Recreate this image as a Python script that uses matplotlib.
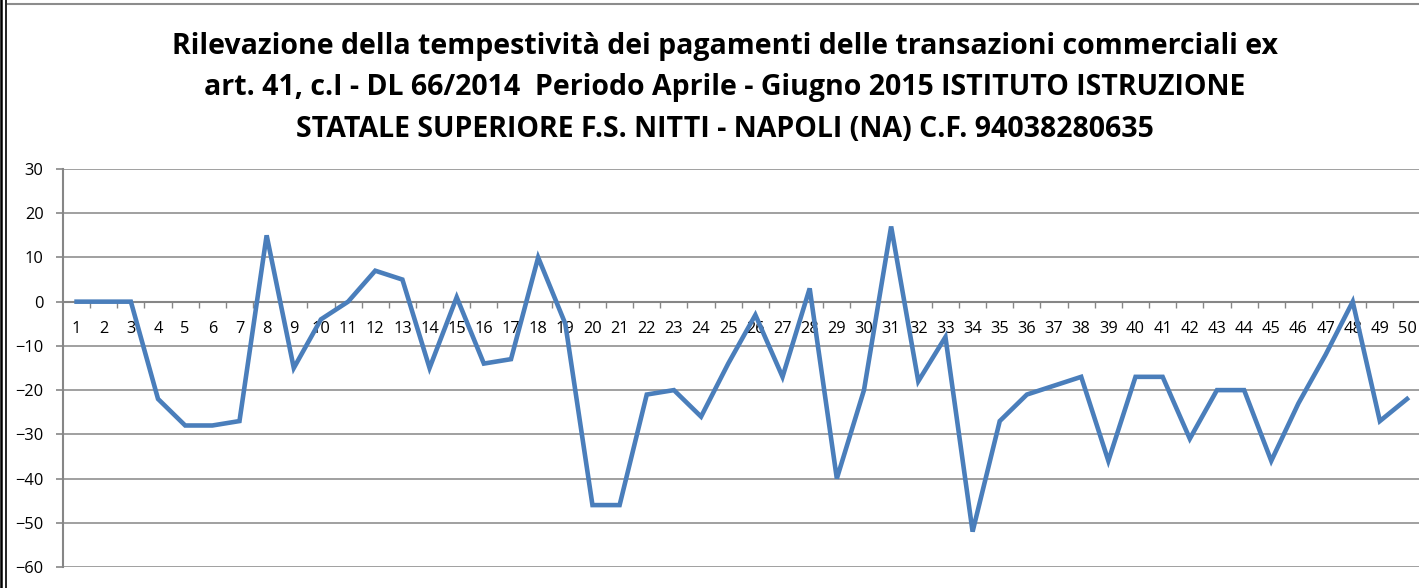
import matplotlib.pyplot as plt
from matplotlib.lines import Line2D

# dati
categorie = list(range(1, 51))
valori = [0, 0, 0, -22, -28, -28, -27, 15, -15, -4,
          0, 7, 5, -15, 1, -14, -13, 10, -5, -46,
          -46, -21, -20, -26, -14, -3, -17, 3, -40, -20,
          17, -18, -8, -52, -27, -21, -19, -17, -36, -17,
          -17, -31, -20, -20, -36, -23, -12, 0, -27, -22]
yticks = [30, 20, 10, 0, -10, -20, -30, -40, -50, -60]

titolo = ("Rilevazione della tempestività dei pagamenti delle transazioni commerciali ex\n"
          "art. 41, c.I - DL 66/2014  Periodo Aprile - Giugno 2015 ISTITUTO ISTRUZIONE\n"
          "STATALE SUPERIORE F.S. NITTI - NAPOLI (NA) C.F. 94038280635")

plt.rcParams['font.family'] = ['Open Sans', 'DejaVu Sans']

W, H = 1419, 588
fig = plt.figure(figsize=(W / 100, H / 100), dpi=100)

x0, x1 = 63, 1420.6
y_top, y_bot = 169, 567
ax = fig.add_axes([x0 / W, 1 - y_bot / H, (x1 - x0) / W, (y_bot - y_top) / H])

grigio = '#868686'
ax.plot(categorie, valori, color='#4A7EBB', linewidth=3.3, solid_joinstyle='miter', zorder=3)

ax.set_xlim(0.5, 50.5)
ax.set_ylim(-60, 30)
ax.set_yticks(yticks)
ax.yaxis.grid(True, color=grigio, linewidth=1.1)
ax.set_axisbelow(True)

for s in ['top', 'right']:
    ax.spines[s].set_visible(False)
ax.spines['left'].set_color(grigio)
ax.spines['left'].set_linewidth(1.5)
ax.spines['bottom'].set_position(('data', 0))
ax.spines['bottom'].set_color(grigio)
ax.spines['bottom'].set_linewidth(1.5)

ax.set_xticks(categorie)
ax.set_xticklabels([str(c) for c in categorie])
ax.set_xticks([c + 0.5 for c in categorie[:-1]], minor=True)
ax.tick_params(axis='x', which='major', length=0, pad=14, labelsize=11.8, colors='black')
ax.tick_params(axis='x', which='minor', length=4, width=1, color=grigio, direction='out')
ax.tick_params(axis='y', length=5, width=1.2, color=grigio, pad=9, labelsize=11.8)

fig.text(725 / W, 1 - 88 / H, titolo, ha='center', va='center',
         fontsize=20.5, fontweight='bold', linespacing=1.55)

# cornice
fig.add_artist(Line2D([8 / W, 1], [1 - 3.5 / H, 1 - 3.5 / H], color='#8c8c8c', linewidth=1.5))
fig.add_artist(Line2D([1.2 / W, 1.2 / W], [0, 1], color='black', linewidth=1.8))
fig.add_artist(Line2D([5.5 / W, 5.5 / W], [0, 1], color='black', linewidth=1.2))

fig.savefig('out.png', dpi=100)
